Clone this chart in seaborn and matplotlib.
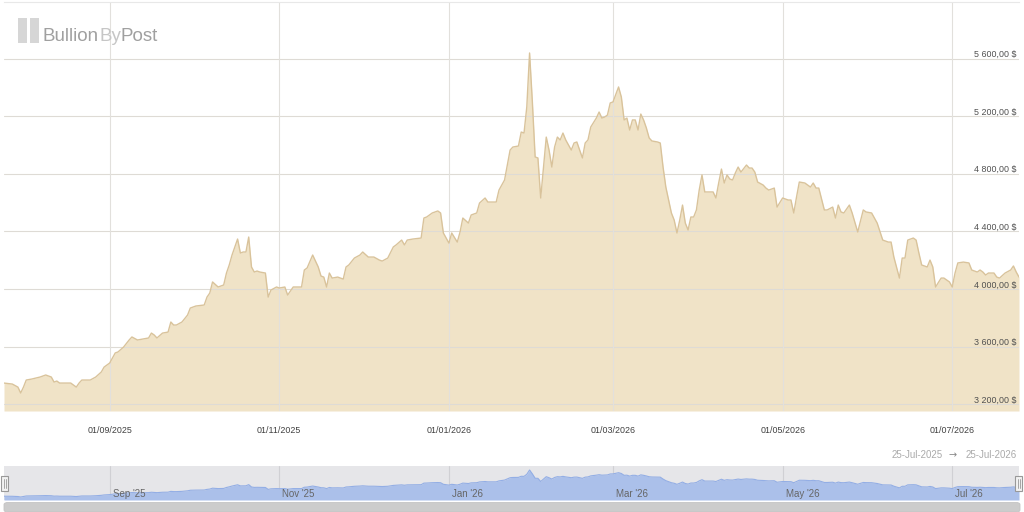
import matplotlib
matplotlib.use("Agg")
import matplotlib.pyplot as plt
import matplotlib.dates as mdates
from matplotlib.patches import Rectangle, FancyBboxPatch
import seaborn as sns
import pandas as pd

# ---------------- data ----------------
dates = [
    "2025-07-25", "2025-07-28", "2025-07-30", "2025-07-31", "2025-08-01", "2025-08-02", "2025-08-04",
    "2025-08-07", "2025-08-09", "2025-08-11", "2025-08-12", "2025-08-13", "2025-08-14", "2025-08-17",
    "2025-08-18", "2025-08-20", "2025-08-21", "2025-08-22", "2025-08-25", "2025-08-27", "2025-08-29",
    "2025-08-30", "2025-09-01", "2025-09-03", "2025-09-04", "2025-09-06", "2025-09-08", "2025-09-09",
    "2025-09-11", "2025-09-13", "2025-09-15", "2025-09-16", "2025-09-17", "2025-09-18", "2025-09-20",
    "2025-09-22", "2025-09-23", "2025-09-24", "2025-09-25", "2025-09-27", "2025-09-29", "2025-09-30",
    "2025-10-02", "2025-10-05", "2025-10-06", "2025-10-07", "2025-10-08", "2025-10-10", "2025-10-11",
    "2025-10-12", "2025-10-13", "2025-10-14", "2025-10-15", "2025-10-17", "2025-10-18", "2025-10-19",
    "2025-10-20", "2025-10-21", "2025-10-22", "2025-10-23", "2025-10-24", "2025-10-25", "2025-10-27",
    "2025-10-28", "2025-10-29", "2025-10-31", "2025-11-01", "2025-11-03", "2025-11-04", "2025-11-06",
    "2025-11-09", "2025-11-10", "2025-11-11", "2025-11-13", "2025-11-15", "2025-11-16", "2025-11-17",
    "2025-11-18", "2025-11-19", "2025-11-20", "2025-11-22", "2025-11-24", "2025-11-25", "2025-11-26",
    "2025-11-28", "2025-11-30", "2025-12-01", "2025-12-03", "2025-12-05", "2025-12-07", "2025-12-08",
    "2025-12-10", "2025-12-12", "2025-12-13", "2025-12-15", "2025-12-16", "2025-12-17", "2025-12-19",
    "2025-12-22", "2025-12-23", "2025-12-24", "2025-12-26", "2025-12-28", "2025-12-29", "2025-12-30",
    "2025-12-31", "2026-01-01", "2026-01-02", "2026-01-04", "2026-01-05", "2026-01-06", "2026-01-08",
    "2026-01-09", "2026-01-11", "2026-01-12", "2026-01-14", "2026-01-15", "2026-01-18", "2026-01-19",
    "2026-01-21", "2026-01-22", "2026-01-23", "2026-01-24", "2026-01-26", "2026-01-27", "2026-01-28",
    "2026-01-29", "2026-01-30", "2026-01-31", "2026-02-01", "2026-02-02", "2026-02-03", "2026-02-04",
    "2026-02-05", "2026-02-06", "2026-02-07", "2026-02-08", "2026-02-09", "2026-02-10", "2026-02-11",
    "2026-02-12", "2026-02-14", "2026-02-15", "2026-02-16", "2026-02-18", "2026-02-19", "2026-02-20",
    "2026-02-21", "2026-02-23", "2026-02-24", "2026-02-25", "2026-02-26", "2026-02-27", "2026-02-28",
    "2026-03-01", "2026-03-03", "2026-03-04", "2026-03-05", "2026-03-06", "2026-03-07", "2026-03-08",
    "2026-03-09", "2026-03-10", "2026-03-11", "2026-03-12", "2026-03-13", "2026-03-14", "2026-03-15",
    "2026-03-17", "2026-03-18", "2026-03-19", "2026-03-20", "2026-03-22", "2026-03-23", "2026-03-24",
    "2026-03-25", "2026-03-26", "2026-03-27", "2026-03-28", "2026-03-29", "2026-03-30", "2026-03-31",
    "2026-04-01", "2026-04-02", "2026-04-03", "2026-04-04", "2026-04-06", "2026-04-07", "2026-04-08",
    "2026-04-09", "2026-04-10", "2026-04-11", "2026-04-12", "2026-04-13", "2026-04-14", "2026-04-15",
    "2026-04-16", "2026-04-18", "2026-04-19", "2026-04-20", "2026-04-21", "2026-04-22", "2026-04-24",
    "2026-04-25", "2026-04-26", "2026-04-28", "2026-04-29", "2026-05-01", "2026-05-03", "2026-05-04",
    "2026-05-05", "2026-05-06", "2026-05-07", "2026-05-09", "2026-05-11", "2026-05-12", "2026-05-13",
    "2026-05-14", "2026-05-16", "2026-05-17", "2026-05-19", "2026-05-20", "2026-05-21", "2026-05-22",
    "2026-05-23", "2026-05-25", "2026-05-26", "2026-05-28", "2026-05-30", "2026-05-31", "2026-06-02",
    "2026-06-03", "2026-06-04", "2026-06-06", "2026-06-08", "2026-06-09", "2026-06-10", "2026-06-12",
    "2026-06-13", "2026-06-14", "2026-06-15", "2026-06-17", "2026-06-18", "2026-06-19", "2026-06-20",
    "2026-06-22", "2026-06-23", "2026-06-24", "2026-06-25", "2026-06-27", "2026-06-28", "2026-06-30",
    "2026-07-01", "2026-07-02", "2026-07-03", "2026-07-05", "2026-07-07", "2026-07-08", "2026-07-10",
    "2026-07-11", "2026-07-12", "2026-07-13", "2026-07-14", "2026-07-16", "2026-07-17", "2026-07-18",
    "2026-07-20", "2026-07-22", "2026-07-23", "2026-07-24", "2026-07-25",
]
prices = [
    3347, 3340, 3319, 3278, 3319, 3368, 3375,
    3389, 3403, 3389, 3354, 3361, 3347, 3347,
    3347, 3319, 3347, 3368, 3368, 3389, 3424,
    3458, 3486, 3556, 3563, 3597, 3646, 3667,
    3646, 3653, 3660, 3694, 3681, 3660, 3694,
    3701, 3771, 3750, 3750, 3771, 3819, 3868,
    3882, 3889, 3944, 3972, 4049, 4014, 4021,
    4028, 4111, 4167, 4236, 4347, 4250, 4257,
    4257, 4361, 4153, 4118, 4125, 4118, 4111,
    3944, 3993, 4014, 4007, 4014, 3958, 4014,
    4014, 4132, 4146, 4236, 4153, 4090, 4083,
    4014, 4111, 4076, 4083, 4069, 4153, 4167,
    4215, 4236, 4257, 4222, 4222, 4201, 4194,
    4215, 4292, 4306, 4340, 4306, 4340, 4347,
    4354, 4493, 4500, 4528, 4542, 4528, 4389,
    4354, 4319, 4389, 4326, 4396, 4493, 4458,
    4514, 4528, 4597, 4632, 4604, 4604, 4687,
    4757, 4861, 4965, 4986, 4993, 5090, 5083,
    5264, 5639, 5300, 4917, 4910, 4632, 4847,
    5055, 4965, 4847, 4986, 5055, 5035, 5083,
    5035, 4965, 5014, 5021, 4910, 5014, 5035,
    5125, 5187, 5229, 5187, 5194, 5208, 5292,
    5299, 5403, 5333, 5174, 5187, 5104, 5174,
    5174, 5104, 5215, 5174, 5118, 5049, 5028,
    5021, 5014, 4847, 4708, 4528, 4479, 4389,
    4479, 4583, 4458, 4410, 4500, 4500, 4549,
    4687, 4792, 4674, 4674, 4674, 4632, 4736,
    4833, 4736, 4792, 4764, 4757, 4806, 4847,
    4812, 4861, 4840, 4840, 4812, 4743, 4722,
    4701, 4687, 4701, 4569, 4632, 4618, 4618,
    4528, 4639, 4743, 4736, 4708, 4736, 4701,
    4701, 4549, 4549, 4569, 4493, 4583, 4535,
    4528, 4583, 4528, 4396, 4549, 4535, 4528,
    4493, 4458, 4340, 4326, 4326, 4222, 4076,
    4215, 4215, 4340, 4354, 4340, 4250, 4167,
    4153, 4201, 4153, 4014, 4076, 4076, 4049,
    4014, 4111, 4181, 4187, 4181, 4132, 4118,
    4132, 4118, 4097, 4111, 4111, 4083, 4076,
    4111, 4132, 4160, 4118, 4083,
]
y_ticks = [3200, 3600, 4000, 4400, 4800, 5200, 5600]
y_tick_labels = ["3 200,00 $", "3 600,00 $", "4 000,00 $", "4 400,00 $",
                 "4 800,00 $", "5 200,00 $", "5 600,00 $"]
x_ticks = ["2025-09-01", "2025-11-01", "2026-01-01", "2026-03-01", "2026-05-01", "2026-07-01"]
x_tick_labels = ["01/09/2025", "01/11/2025", "01/01/2026", "01/03/2026", "01/05/2026", "01/07/2026"]
nav_labels = ["Sep '25", "Nov '25", "Jan '26", "Mar '26", "May '26", "Jul '26"]
range_start, range_end = "25-Jul-2025", "25-Jul-2026"
x_min, x_max = "2025-07-25", "2026-07-25"
logo_parts = ["Bullion", "By", "Post"]

# ---------------- setup ----------------
sns.set_theme(style="white")
plt.rcParams['font.family'] = ['Liberation Sans', 'DejaVu Sans']

df = pd.DataFrame({"date": pd.to_datetime(dates), "price": prices})
xt = pd.to_datetime(x_ticks)
xt_num = [mdates.date2num(d) for d in xt]
t0, t1 = pd.Timestamp(x_min), pd.Timestamp(x_max)

W, H = 1024, 512
fig = plt.figure(figsize=(W / 100, H / 100), dpi=100)
fig.patch.set_facecolor("white")

def fx(px):
    return px / W

def fy(py):
    return 1 - py / H

# ---------------- main chart ----------------
ylo, yhi = 3153, 5993
ax = fig.add_axes([fx(4), fy(411), fx(1019) - fx(4), fy(2) - fy(411)])
ax.set_facecolor("white")
ax.set_xlim(t0, t1)
ax.set_ylim(ylo, yhi)
ax.fill_between(df["date"], df["price"], ylo, color="#f0e3c7", lw=0, zorder=1)
sns.lineplot(data=df, x="date", y="price", ax=ax, color="#d9c39b", lw=1.0, zorder=3)
for v in y_ticks:
    ax.axhline(v, color="#dedbd5", lw=0.8, zorder=2)
for d in xt:
    ax.axvline(d, color="#e2e0dc", lw=0.8, zorder=2)

for v, lab in zip(y_ticks, y_tick_labels):
    ax.annotate(lab, xy=(0.998, v), xycoords=ax.get_yaxis_transform(),
                xytext=(0, 1.5), textcoords="offset pixels",
                ha="right", va="baseline", fontsize=6.4, color="#505050", zorder=5)

ax.set_xticks(xt)
ax.set_xticklabels(x_tick_labels)
ax.set_yticks([])
ax.tick_params(axis="x", length=0, pad=11, labelsize=6.4, labelcolor="#404040")
ax.set_xlabel("")
ax.set_ylabel("")
for s in ["left", "right", "bottom"]:
    ax.spines[s].set_visible(False)
ax.spines["top"].set_color("#e8e8e8")
ax.spines["top"].set_linewidth(0.8)

# ---------------- range text ----------------
fig.text(fx(892), fy(455), range_start, ha="left", va="center", fontsize=7, color="#aaaaaa")
fig.text(fx(953), fy(455), "\u2192", ha="center", va="center", fontsize=7, color="#888888",
         family=["DejaVu Sans"])
fig.text(fx(1017), fy(455), range_end, ha="right", va="center", fontsize=7, color="#aaaaaa")

# ---------------- navigator ----------------
nlo, nhi = 3016, 5989
ax2 = fig.add_axes([fx(4), fy(500), fx(1019) - fx(4), fy(466) - fy(500)])
ax2.set_facecolor("#e6e6e9")
ax2.set_xlim(t0, t1)
ax2.set_ylim(nlo, nhi)
for d in xt:
    ax2.axvline(d, color="#d0d0d4", lw=0.8, zorder=0.5)
ax2.fill_between(df["date"], df["price"], nlo, color="#abc0ea", lw=0, zorder=1)
sns.lineplot(data=df, x="date", y="price", ax=ax2, color="#93aee5", lw=0.8, zorder=2)
for d, lab in zip(xt_num, nav_labels):
    ax2.annotate(lab, xy=(d, 0), xycoords=ax2.get_xaxis_transform(),
                 xytext=(3, 3), textcoords="offset pixels",
                 ha="left", va="baseline", fontsize=7, color="#666666", zorder=4)
ax2.set_xticks([])
ax2.set_yticks([])
ax2.set_xlabel("")
ax2.set_ylabel("")
for s in ax2.spines.values():
    s.set_visible(False)

# handles
for hx in (1, 1015):
    fig.patches.append(Rectangle((fx(hx), fy(491)), 7 / W, 15 / H, transform=fig.transFigure,
                                 facecolor="#f2f2f2", edgecolor="#999999", lw=0.8, zorder=10))
    for gx in (hx + 2.5, hx + 4.5):
        fig.lines.append(plt.Line2D([fx(gx), fx(gx)], [fy(488), fy(479)], transform=fig.transFigure,
                                    color="#999999", lw=0.6, zorder=11))

# scrollbar
fig.patches.append(FancyBboxPatch((fx(4), fy(512)), (1016) / W, 9.5 / H,
                                  boxstyle="round,pad=0,rounding_size=0.004",
                                  transform=fig.transFigure, facecolor="#cccccc",
                                  edgecolor="#c4c4c4", lw=0.6, zorder=5))

# ---------------- logo ----------------
for bx in (18, 30):
    fig.patches.append(Rectangle((fx(bx), fy(43)), 9 / W, 25 / H, transform=fig.transFigure,
                                 facecolor="#d6d6d6", edgecolor="none", zorder=10))
fig.canvas.draw()
renderer = fig.canvas.get_renderer()
logo_fam = ["Liberation Sans", "DejaVu Sans"]
logo_colors = ["#a0a0a0", "#c6c6c6", "#a0a0a0"]
xpos = fx(43)
for part, col in zip(logo_parts, logo_colors):
    t = fig.text(xpos, fy(41), part, ha="left", va="baseline", fontsize=13.5,
                 color=col, family=logo_fam)
    bb = t.get_window_extent(renderer)
    xpos = bb.x1 / W

fig.savefig("out.png", dpi=100, facecolor="white")
